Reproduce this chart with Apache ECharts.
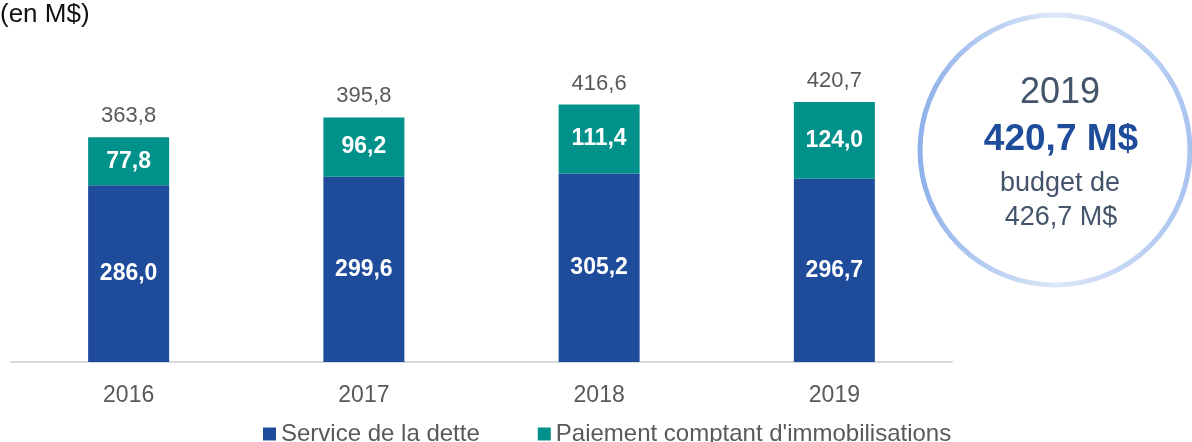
<!DOCTYPE html>
<html>
<head>
<meta charset="utf-8">
<script src="https://cdn.jsdelivr.net/npm/echarts@6/dist/echarts.min.js"></script>
<style>
  html, body { margin: 0; padding: 0; background: #fff; }
  #chart { width: 1192px; height: 442px; }
</style>
</head>
<body>
<div id="chart"></div>
<script>
const years = ['2016', '2017', '2018', '2019']
const serviceDette = [286.0, 299.6, 305.2, 296.7]
const paiementComptant = [77.8, 96.2, 111.4, 124.0]
const totals = [363.8, 395.8, 416.6, 420.7]

const BLUE = '#1E4C9B'
const TEAL = '#00918A'
const FONT = '"Liberation Sans", Arial, sans-serif'

// format à la française : virgule décimale
const fr = (v) => v.toFixed(1).replace('.', ',')

const chart = echarts.init(document.getElementById('chart'))

const insideLabel = {
  show: true,
  position: 'inside',
  color: '#fff',
  fontFamily: FONT,
  fontWeight: 'bold',
  fontSize: 23,
  formatter: (p) => fr(p.value)
}

chart.setOption({
  animation: false,
  textStyle: { fontFamily: FONT },
  grid: { left: 11, right: 240, top: 53, bottom: 80 },
  legend: {
    left: 258,
    top: 417,
    itemWidth: 13,
    itemHeight: 13,
    itemGap: 58,
    icon: 'rect',
    textStyle: { fontSize: 24, color: '#595959', fontFamily: FONT },
    data: ['Service de la dette', "Paiement comptant d'immobilisations"]
  },
  xAxis: {
    type: 'category',
    data: years,
    axisLine: { lineStyle: { color: '#d9d9d9', width: 2 } },
    axisTick: { show: false },
    axisLabel: { color: '#595959', fontSize: 23, margin: 22, fontFamily: FONT }
  },
  yAxis: {
    type: 'value',
    min: 0,
    max: 500,
    show: false,
    splitLine: { show: false }
  },
  series: [
    {
      name: 'Service de la dette',
      type: 'bar',
      stack: 'total',
      barWidth: 81,
      itemStyle: { color: BLUE },
      label: insideLabel,
      data: serviceDette
    },
    {
      name: "Paiement comptant d'immobilisations",
      type: 'bar',
      stack: 'total',
      itemStyle: { color: TEAL },
      label: insideLabel,
      data: paiementComptant
    },
    {
      // série invisible pour afficher les totaux au-dessus des barres
      name: 'total',
      type: 'bar',
      stack: 'total',
      itemStyle: { color: 'transparent' },
      label: {
        show: true,
        position: 'top',
        distance: 10,
        color: '#595959',
        fontSize: 22,
        fontFamily: FONT,
        formatter: (p) => fr(totals[p.dataIndex])
      },
      data: years.map(() => 0)
    }
  ],
  graphic: [
    {
      type: 'text',
      left: 0,
      top: 2,
      style: { text: '(en M$)', fill: '#111', font: '26px ' + FONT }
    },
    {
      type: 'circle',
      shape: { cx: 1055, cy: 150, r: 135 },
      style: {
        fill: '#fff',
        lineWidth: 5,
        stroke: new echarts.graphic.LinearGradient(0, 0, 1, 0, [
          { offset: 0, color: '#8DB0EA' },
          { offset: 0.5, color: '#DDE8F8' },
          { offset: 1, color: '#A9C3F0' }
        ])
      }
    },
    {
      type: 'text',
      x: 1060,
      y: 93,
      style: { text: '2019', font: '36px ' + FONT, fill: '#44546A', align: 'center', verticalAlign: 'middle' }
    },
    {
      type: 'text',
      x: 1061,
      y: 140,
      style: { text: '420,7 M$', font: 'bold 37px ' + FONT, fill: '#1E4C9B', align: 'center', verticalAlign: 'middle' }
    },
    {
      type: 'text',
      x: 1060,
      y: 184,
      style: { text: 'budget de', font: '27px ' + FONT, fill: '#44546A', align: 'center', verticalAlign: 'middle' }
    },
    {
      type: 'text',
      x: 1061,
      y: 218,
      style: { text: '426,7 M$', font: '27px ' + FONT, fill: '#44546A', align: 'center', verticalAlign: 'middle' }
    }
  ]
})
</script>
</body>
</html>
